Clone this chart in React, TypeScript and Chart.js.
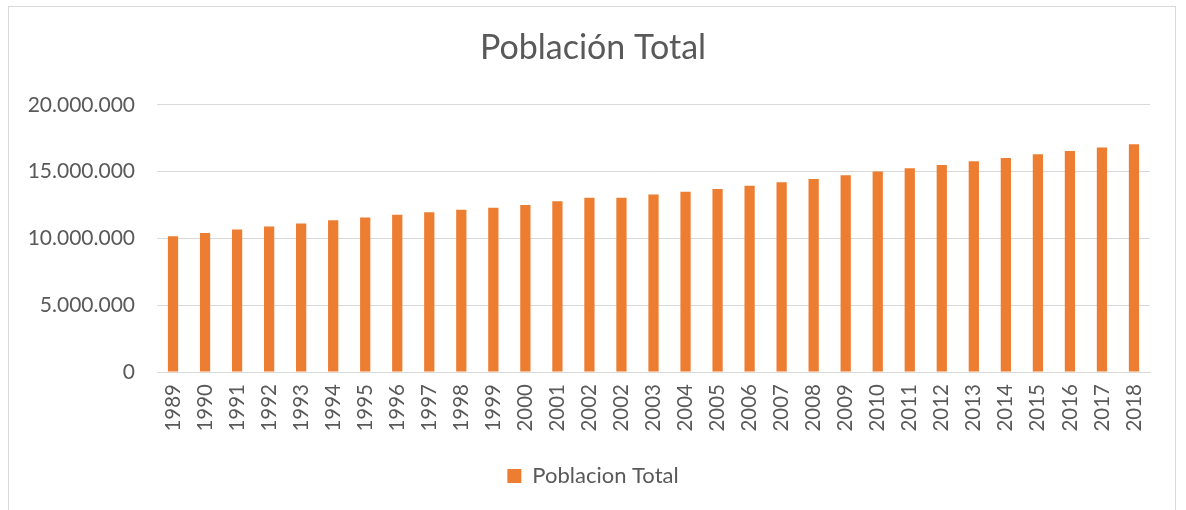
import { useEffect, useRef } from "react";
import { Chart, registerables } from "chart.js";

Chart.register(...registerables);

const years: string[] = [
  "1989", "1990", "1991", "1992", "1993", "1994", "1995", "1996", "1997", "1998",
  "1999", "2000", "2001", "2002", "2002", "2003", "2004", "2005", "2006", "2007",
  "2008", "2009", "2010", "2011", "2012", "2013", "2014", "2015", "2016", "2017", "2018",
];

const population: number[] = [
  10170000, 10400000, 10670000, 10900000, 11120000, 11350000, 11570000, 11770000, 11950000, 12150000,
  12300000, 12500000, 12780000, 13050000, 13050000, 13280000, 13500000, 13700000, 13950000, 14200000,
  14450000, 14720000, 15000000, 15250000, 15500000, 15780000, 16020000, 16300000, 16550000, 16800000, 17050000,
];

const seriesName = "Poblacion Total";
const chartTitle = "Población Total";
const yMin = 0;
const yMax = 20000000;
const yStep = 5000000;

const fmt = (v: number) => String(Math.round(v)).replace(/\B(?=(\d{3})+(?!\d))/g, ".");

export default function App() {
  const ref = useRef<HTMLCanvasElement | null>(null);

  useEffect(() => {
    if (!ref.current) return;
    const text = "#595959";
    const chart = new Chart(ref.current, {
      type: "bar",
      data: {
        labels: years,
        datasets: [
          {
            label: seriesName,
            data: population,
            backgroundColor: "#ED7D31",
            borderWidth: 0,
            categoryPercentage: 1,
            barPercentage: 0.32,
          },
        ],
      },
      options: {
        responsive: false,
        animation: false,
        devicePixelRatio: 1,
        layout: { padding: { left: 0, right: 0, top: 0, bottom: 13 } },
        plugins: {
          title: {
            display: true,
            text: chartTitle,
            color: text,
            font: { family: "Lato", size: 34, weight: "normal" },
            padding: { top: 28, bottom: 36 },
          },
          legend: {
            position: "bottom",
            labels: {
              color: text,
              font: { family: "Lato", size: 22 },
              boxWidth: 14,
              boxHeight: 14,
              padding: 10,
            },
          },
          tooltip: { enabled: false },
        },
        scales: {
          x: {
            grid: { display: false, drawTicks: false },
            border: { display: true, color: "#d9d9d9", width: 1 },
            ticks: {
              color: text,
              font: { family: "Lato", size: 20.5 },
              minRotation: 90,
              maxRotation: 90,
              padding: 12,
              autoSkip: false,
            },
            afterFit: (scale: any) => {
              scale.height = 83;
            },
          },
          y: {
            min: yMin,
            max: yMax,
            grid: { color: "#d9d9d9", lineWidth: 1, drawTicks: false },
            border: { display: false },
            ticks: {
              stepSize: yStep,
              color: text,
              font: { family: "Lato", size: 21 },
              padding: 22,
              callback: (v: any) => fmt(Number(v)),
            },
            afterFit: (scale: any) => {
              scale.width = 157;
            },
          },
          spacer: {
            type: "linear",
            position: "right",
            display: true,
            grid: { display: false, drawTicks: false },
            border: { display: false },
            ticks: { display: false },
            afterFit: (scale: any) => {
              scale.width = 36;
            },
          },
        },
      },
    });
    return () => chart.destroy();
  }, []);

  return (
    <div
      style={{
        position: "absolute",
        left: 0,
        top: 0,
        width: 1186,
        height: 510,
        overflow: "hidden",
        background: "#ffffff",
      }}
    >
      <div
        style={{
          position: "absolute",
          left: 8,
          top: 6,
          width: 1168,
          height: 520,
          border: "1px solid #d9d9d9",
          boxSizing: "border-box",
        }}
      />
      <canvas
        ref={ref}
        width={1186}
        height={510}
        style={{ position: "absolute", left: 0, top: 0, width: 1186, height: 510 }}
      />
    </div>
  );
}
